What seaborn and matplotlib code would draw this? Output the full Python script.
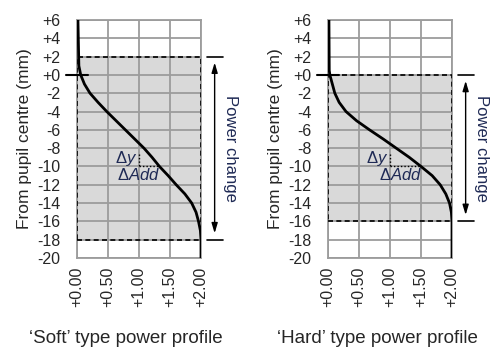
import matplotlib
matplotlib.use("Agg")
import matplotlib.pyplot as plt
import matplotlib.patches as patches
import pandas as pd
import seaborn as sns

# power profile: add power (D) against height from pupil centre (mm)
soft_y = [6, 1, 0, -1, -2, -3, -4, -5, -6, -7, -8, -9, -10, -11, -12, -13, -14, -15, -16, -17, -18, -20]
soft_add = [0.015, 0.03, 0.06, 0.12, 0.21, 0.34, 0.48, 0.63, 0.78, 0.93, 1.08, 1.21, 1.33,
            1.47, 1.60, 1.74, 1.85, 1.92, 1.96, 1.99, 2.0, 2.0]

hard_y = [6, 0.5, 0, -1, -2, -3, -4, -5, -6, -7, -8, -9, -10, -11, -12, -13, -14, -15, -16, -20]
hard_add = [0.015, 0.02, 0.03, 0.07, 0.11, 0.18, 0.29, 0.46, 0.67, 0.89, 1.10, 1.31, 1.50,
            1.68, 1.81, 1.90, 1.96, 1.99, 2.0, 2.0]

# power change zone (top, bottom) in mm
soft_zone = (2, -18)
hard_zone = (0, -16)

titles = ["\u2018Soft\u2019 type power profile", "\u2018Hard\u2019 type power profile"]
x_ticks = [0.0, 0.5, 1.0, 1.5, 2.0]
y_ticks = list(range(6, -21, -2))

sns.set_style("white")
plt.rcParams['font.family'] = ['Liberation Sans', 'DejaVu Sans']
plt.rcParams['mathtext.fontset'] = 'custom'
plt.rcParams['mathtext.rm'] = 'Liberation Sans'
plt.rcParams['mathtext.it'] = 'Liberation Sans:italic'

navy = '#1f2a55'
gridc = '#9c9c9c'

fig = plt.figure(figsize=(4.97, 3.49), dpi=100)
ax_l = fig.add_axes([77 / 497, 1 - 258 / 349, 124 / 497, 238 / 349])
ax_r = fig.add_axes([328 / 497, 1 - 258 / 349, 124 / 497, 238 / 349])

panels = [
    (ax_l, soft_add, soft_y, soft_zone, titles[0]),
    (ax_r, hard_add, hard_y, hard_zone, titles[1]),
]

for ax, add, ys, zone, title in panels:
    top, bottom = zone
    df = pd.DataFrame({"add": add, "y": ys})

    ax.fill_between([0, 2], bottom, top, color='#d9d9d9', lw=0, zorder=0.2)
    ax.add_patch(patches.Rectangle((0, bottom), 2, top - bottom, fill=False,
                                   ec='black', lw=1.2, ls=(0, (3, 2)), zorder=3))

    sns.lineplot(data=df, x="add", y="y", sort=False, estimator=None,
                 color='black', lw=2, ax=ax, zorder=4)

    ax.set_xlim(0, 2)
    ax.set_ylim(-20, 6)
    ax.set_xticks(x_ticks)
    ax.set_xticklabels([f"{v:+.2f}" for v in x_ticks], rotation=90, fontsize=11.5)
    ax.set_yticks(y_ticks)
    ax.set_yticklabels([f"{v:+d}" for v in y_ticks], fontsize=11.5)
    ax.tick_params(axis='y', length=0, pad=12)
    ax.tick_params(axis='x', length=0, pad=6.5)
    ax.set_axisbelow(True)
    ax.grid(True, color=gridc, lw=1.3)
    for sp in ax.spines.values():
        sp.set_color(gridc)
        sp.set_linewidth(1.3)

    ax.set_xlabel("")
    ax.set_ylabel("From pupil centre (mm)", fontsize=12.5)
    ax.yaxis.set_label_coords(-0.36, 0.5)

    # short mark at the pupil centre
    ax.plot([-0.18, 0.18], [0, 0], color='black', lw=1.5, clip_on=False, zorder=5)

    # power change arrow with end marks
    for yv in (top, bottom):
        ax.plot([2.1, 2.35], [yv, yv], color='black', lw=1.2, clip_on=False)
    ax.annotate('', xy=(2.22, top - 0.65), xytext=(2.22, bottom + 0.7),
                arrowprops=dict(arrowstyle='<|-|>,head_length=0.6,head_width=0.18',
                                color='black', lw=1, shrinkA=0, shrinkB=0),
                annotation_clip=False)
    ax.text(2.48, (top + bottom) / 2, 'Power change', rotation=-90, ha='center',
            va='center', fontsize=12, color=navy, clip_on=False)

    # delta-y / delta-Add construction at -10 mm
    cross = add[ys.index(-10)]
    ax.plot([1.0, 1.0], [-8.6, -10], color='black', lw=1, ls=(0, (1, 1.5)), zorder=3.5)
    ax.plot([1.0, cross], [-10, -10], color='black', lw=1, ls=(0, (1, 1.5)), zorder=3.5)
    ax.text(0.97, -9.1, r'$\Delta \mathit{y}$', ha='right', va='center', fontsize=12, color=navy)
    ax.text(0.64 if ax is ax_l else 0.82, -10.95, r'$\Delta \mathit{Add}$', ha='left',
            va='center', fontsize=12, color=navy)

    ax.text(0.395, -0.34, title, transform=ax.transAxes, ha='center', va='center',
            fontsize=13.5)

plt.savefig("out.png", dpi=100)
